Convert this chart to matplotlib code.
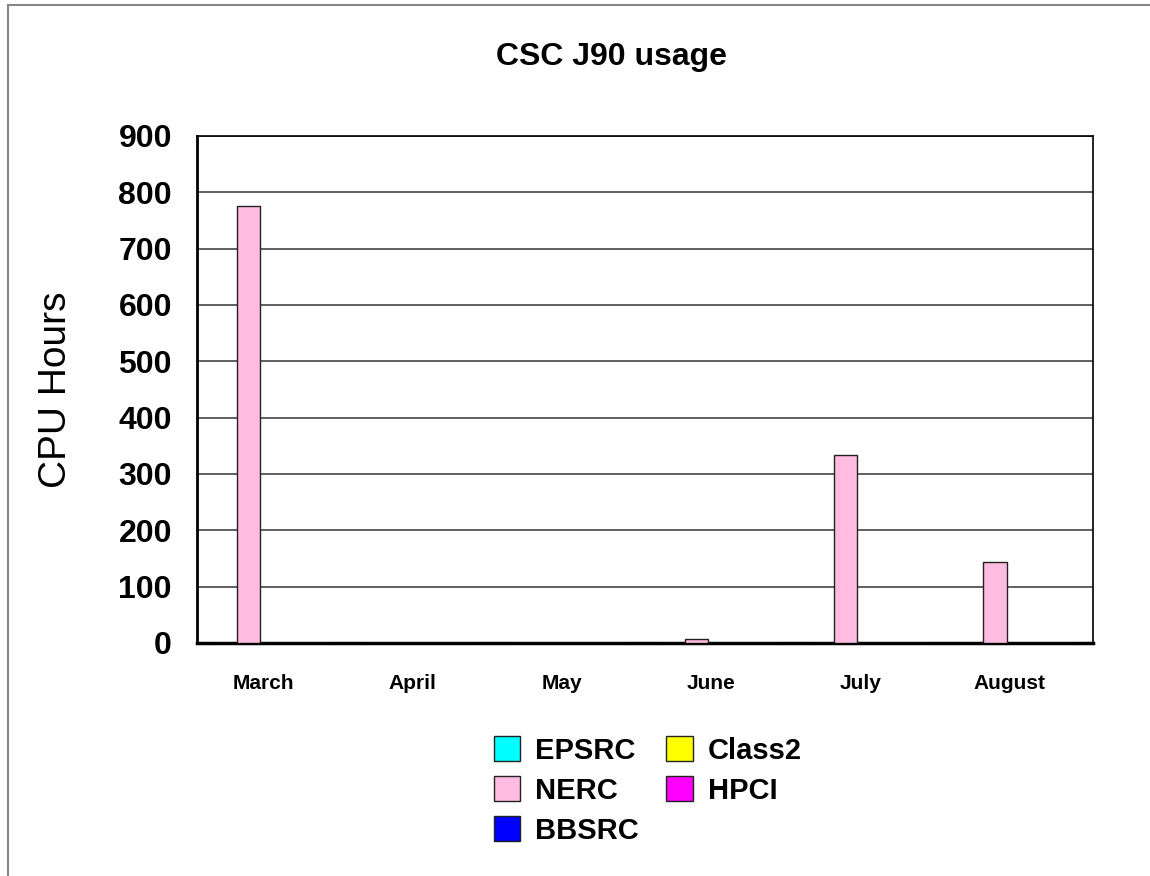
# CSC J90 usage - grouped bar chart of CPU hours per month by research council
import matplotlib.pyplot as plt
import numpy as np

plt.rcParams['font.family'] = ['Liberation Sans', 'DejaVu Sans']

months = ['March', 'April', 'May', 'June', 'July', 'August']
series_names = ['EPSRC', 'NERC', 'BBSRC', 'Class2', 'HPCI']
epsrc = [0, 0, 0, 0, 0, 0]
nerc = [775, 0, 0, 7, 334, 144]
bbsrc = [0, 0, 0, 0, 0, 0]
class2 = [0, 0, 0, 0, 0, 0]
hpci = [0, 0, 0, 0, 0, 0]
colors = ['#00ffff', '#ffbbe0', '#0000ff', '#ffff00', '#ff00ff']
y_ticks = [0, 100, 200, 300, 400, 500, 600, 700, 800, 900]

fig = plt.figure(figsize=(11.5, 8.76), dpi=100)
ax = fig.add_axes([0.1713, 0.266, 0.779, 0.5788])

x = np.arange(len(months))
width = 0.156
all_series = [epsrc, nerc, bbsrc, class2, hpci]
for i, (name, vals) in enumerate(zip(series_names, all_series)):
    ax.bar(x + (i - 2) * width, vals, width, color=colors[i], edgecolor='#222222',
           linewidth=1, label=name, zorder=3)

ax.set_xlim(-0.5, len(months) - 0.5)
ax.set_ylim(0, 900)
ax.set_yticks(y_ticks)
ax.set_yticklabels([str(v) for v in y_ticks], fontsize=23, fontweight='bold')
ax.set_xticks(x - 0.057)
ax.set_xticklabels(months, fontsize=15, fontweight='bold')
ax.tick_params(axis='both', length=0)
ax.tick_params(axis='y', pad=18)
ax.tick_params(axis='x', pad=22)
ax.yaxis.grid(True, color='#444444', linewidth=1.2, zorder=0)
ax.set_axisbelow(True)

ax.set_ylabel('CPU Hours', fontsize=28, labelpad=32)

for side in ['top', 'right']:
    ax.spines[side].set_linewidth(1.2)
ax.spines['left'].set_linewidth(2)
ax.spines['bottom'].set_linewidth(2.5)

fig.text(0.532, 0.935, 'CSC J90 usage', ha='center', va='center',
         fontsize=23, fontweight='bold')

fig.legend(loc='upper left', bbox_to_anchor=(0.4165, 0.176), ncol=2,
           frameon=False, prop={'weight': 'bold', 'size': 21},
           handlelength=0.92, handleheight=0.92, handletextpad=0.5,
           columnspacing=0.95, labelspacing=0.4, borderpad=0)

# thin grey frame along top and left of the figure
fig.add_artist(plt.Line2D([0.007, 1.0], [0.994, 0.994], color='#888888', linewidth=1.5))
fig.add_artist(plt.Line2D([0.007, 0.007], [0.0, 0.994], color='#888888', linewidth=1.5))

fig.savefig('out.png', dpi=100)
